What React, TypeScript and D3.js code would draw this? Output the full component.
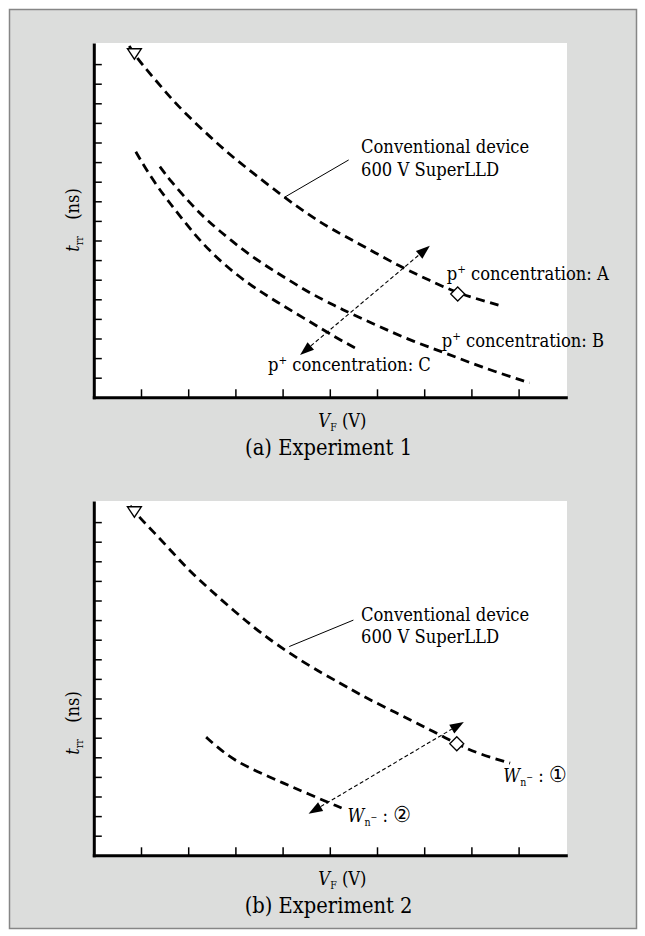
import React, { useEffect, useRef } from 'react';
import * as d3 from 'd3';

// tick positions (no labels on the original, only marks)
const xTicks = [1, 2, 3, 4, 5, 6, 7, 8, 9];
const yTicks = [1, 2, 3, 4, 5, 6, 7, 8, 9, 10, 11, 12, 13, 14, 15, 16, 17];

// (a) Experiment 1 : [VF, trr] in arbitrary units
const exp1Conventional = [
  [0.75, 17.92], [0.94, 17.23], [1.16, 16.61], [1.54, 15.51], [1.97, 14.4], [2.46, 13.3],
  [2.89, 12.36], [3.38, 11.43], [4.02, 10.23], [4.51, 9.39], [5.0, 8.62], [5.71, 7.72],
  [6.49, 6.66], [7.12, 5.96], [7.71, 5.3], [8.64, 4.66],
];
const exp1ConcB = [
  [1.4, 11.77], [1.61, 11.09], [2.04, 9.9], [2.39, 9.05], [2.89, 8.03], [3.45, 7.0],
  [4.02, 6.15], [4.58, 5.31], [5.15, 4.62], [5.43, 4.29], [6.06, 3.6], [6.77, 2.84],
  [7.48, 2.24], [8.18, 1.56], [9.23, 0.74],
];
const exp1ConcC = [
  [0.89, 12.53], [1.09, 11.7], [1.34, 10.78], [1.61, 9.91], [1.91, 8.99], [2.25, 7.98],
  [2.74, 6.8], [3.31, 5.73], [3.88, 4.86], [4.52, 3.94], [5.15, 3.02], [5.58, 2.46],
];
const exp1Start = [0.86, 17.58];
const exp1Diamond = [7.71, 5.27];
const exp1Arrow = [[4.37, 2.16], [7.12, 7.73]];
const exp1Leader = [[4.03, 10.19], [5.4, 12.11]];

// (b) Experiment 2
const exp2Conventional = [
  [0.77, 17.83], [0.98, 17.2], [1.26, 16.52], [1.65, 15.5], [2.04, 14.48], [2.43, 13.63],
  [2.82, 12.78], [3.24, 11.93], [3.63, 11.16], [4.51, 9.72], [5.22, 8.79], [5.71, 8.1],
  [6.21, 7.51], [6.77, 6.83], [7.19, 6.32], [7.69, 5.69], [8.11, 5.21], [8.82, 4.7],
];
const exp2Wn2 = [
  [2.38, 6.03], [2.6, 5.55], [2.96, 4.87], [3.45, 4.28], [4.02, 3.68], [4.51, 3.17], [5.25, 2.41],
];
const exp2Start = [0.86, 17.58];
const exp2Diamond = [7.69, 5.69];
const exp2Arrow = [[4.55, 2.12], [7.84, 6.8]];
const exp2Leader = [[4.14, 10.65], [5.5, 12.0]];

const serif = "'DejaVu Serif Condensed', 'DejaVu Serif', serif";

const panels = [
  {
    top: 43, curves: [exp1Conventional, exp1ConcB, exp1ConcC], start: exp1Start, diamond: exp1Diamond,
    arrow: exp1Arrow, leader: exp1Leader, caption: '(a) Experiment 1', yLabelY: 177, convY: 110,
    labels: [
      { x: 446.7, y: 236.5, kind: 'p', text: 'A' },
      { x: 441.7, y: 304, kind: 'p', text: 'B' },
      { x: 268, y: 328, kind: 'p', text: 'C' },
    ],
  },
  {
    top: 501, curves: [exp2Conventional, exp2Wn2], start: exp2Start, diamond: exp2Diamond,
    arrow: exp2Arrow, leader: exp2Leader, caption: '(b) Experiment 2', yLabelY: 222, convY: 119.7,
    labels: [
      { x: 503.3, y: 280.7, kind: 'w', text: '\u2460' },
      { x: 347.6, y: 320.7, kind: 'w', text: '\u2461' },
    ],
  },
];

function txt(g: any, x: number, y: number, size = 18.2) {
  return g.append('text').attr('x', x).attr('y', y).attr('font-family', serif)
    .attr('font-stretch', 'condensed').attr('font-size', size).attr('fill', '#000');
}

function drawPanel(svg: any, p: any) {
  const g = svg.append('g').attr('transform', `translate(0,${p.top})`);
  const x = d3.scaleLinear().domain([0, 10]).range([93.8, 565.8]);
  const y = d3.scaleLinear().domain([0, 18]).range([354.3, 1.5]);

  g.append('rect').attr('x', 93).attr('y', 0).attr('width', 474).attr('height', 354.3).attr('fill', '#fff');

  const xa = g.append('g').attr('transform', `translate(0,${y(0)})`)
    .call(d3.axisBottom(x).tickValues(xTicks).tickSizeInner(-8).tickSizeOuter(0).tickFormat(() => ''));
  const ya = g.append('g').attr('transform', `translate(${x(0)},0)`)
    .call(d3.axisLeft(y).tickValues(yTicks).tickSizeInner(-8).tickSizeOuter(0).tickFormat(() => ''));
  [xa, ya].forEach(a => {
    a.select('.domain').attr('stroke', '#000').attr('stroke-width', 3).attr('stroke-linecap', 'square');
    a.selectAll('.tick line').attr('stroke', '#000').attr('stroke-width', 1.5);
    a.selectAll('.tick text').remove();
  });

  const line = d3.line<number[]>().x(d => x(d[0])).y(d => y(d[1])).curve(d3.curveBasis);
  p.curves.forEach((c: number[][]) => {
    g.append('path').attr('d', line(c)).attr('fill', 'none').attr('stroke', '#000')
      .attr('stroke-width', 2.8).attr('stroke-dasharray', '9,5.5');
  });

  // leader line to the conventional device label
  g.append('line').attr('x1', x(p.leader[0][0])).attr('y1', y(p.leader[0][1]))
    .attr('x2', x(p.leader[1][0])).attr('y2', y(p.leader[1][1])).attr('stroke', '#000').attr('stroke-width', 1);

  // double arrow
  const [a0, a1] = p.arrow;
  const x0 = x(a0[0]), y0 = y(a0[1]), x1 = x(a1[0]), y1 = y(a1[1]);
  const ang = Math.atan2(y1 - y0, x1 - x0);
  const hl = 14, hw = 5;
  g.append('line').attr('x1', x0 + Math.cos(ang) * hl).attr('y1', y0 + Math.sin(ang) * hl)
    .attr('x2', x1 - Math.cos(ang) * hl).attr('y2', y1 - Math.sin(ang) * hl)
    .attr('stroke', '#000').attr('stroke-width', 1.1).attr('stroke-dasharray', '4,2.5');
  const head = (tx: number, ty: number, a: number) => {
    const bx = tx - Math.cos(a) * hl, by = ty - Math.sin(a) * hl;
    const pts = [[tx, ty], [bx - Math.sin(a) * hw, by + Math.cos(a) * hw], [bx + Math.sin(a) * hw, by - Math.cos(a) * hw]];
    g.append('polygon').attr('points', pts.map(q => q.join(',')).join(' ')).attr('fill', '#000');
  };
  head(x1, y1, ang);
  head(x0, y0, ang + Math.PI);

  // markers
  const sx = x(p.start[0]), sy = y(p.start[1]);
  g.append('polygon').attr('points', `${sx - 7},${sy - 4} ${sx + 7},${sy - 4} ${sx},${sy + 6.5}`)
    .attr('fill', '#fff').attr('stroke', '#000').attr('stroke-width', 1.3);
  const dx = x(p.diamond[0]), dy = y(p.diamond[1]);
  g.append('polygon').attr('points', `${dx - 7},${dy} ${dx},${dy - 7} ${dx + 7},${dy} ${dx},${dy + 7}`)
    .attr('fill', '#fff').attr('stroke', '#000').attr('stroke-width', 1.3);

  // labels
  txt(g, 361, p.convY).text('Conventional device');
  txt(g, 361, p.convY + 22.5).text('600 V SuperLLD');

  p.labels.forEach((l: any) => {
    const t = txt(g, l.x, l.y);
    if (l.kind === 'p') {
      t.append('tspan').text('p');
      t.append('tspan').attr('font-size', 11.5).attr('dy', -7).text('+');
      t.append('tspan').attr('dy', 7).text(' concentration: ' + l.text);
    } else {
      t.append('tspan').attr('font-style', 'italic').text('W');
      t.append('tspan').attr('font-size', 10.5).attr('dy', 4).text('n');
      t.append('tspan').attr('font-size', 9).attr('dy', -6).text('\u2212');
      t.append('tspan').attr('dy', 2).text(' : ');
      t.append('tspan').attr('font-size', 22).attr('font-family', "'DejaVu Sans', 'Noto Sans CJK JP', sans-serif").text(l.text);
    }
  });

  const vf = txt(g, 318.3, 383.7);
  vf.append('tspan').attr('font-style', 'italic').text('V');
  vf.append('tspan').attr('font-size', 10.5).attr('dy', 4).text('F');
  vf.append('tspan').attr('dy', -4).text(' (V)');

  const yl = txt(g, 0, 0).attr('text-anchor', 'middle').attr('transform', `translate(79,${p.yLabelY}) rotate(-90)`);
  yl.append('tspan').attr('font-style', 'italic').text('t');
  yl.append('tspan').attr('font-size', 10.5).attr('dy', 4).text('rr');
  yl.append('tspan').attr('dy', -4).text('\u2003(ns)');

  txt(g, 328.6, 412, 21.7).attr('text-anchor', 'middle').text(p.caption);
}

export default function App() {
  const ref = useRef<SVGSVGElement>(null);
  useEffect(() => {
    const svg = d3.select(ref.current);
    svg.selectAll('*').remove();
    svg.append('rect').attr('x', 9.5).attr('y', 9.5).attr('width', 627).attr('height', 919)
      .attr('fill', '#dcdddc').attr('stroke', '#868686').attr('stroke-width', 1.5);
    panels.forEach(p => drawPanel(svg, p));
  }, []);
  return (
    <svg ref={ref} width={645} height={936}
      style={{ position: 'absolute', left: 0, top: 0, background: '#fff' }} />
  );
}
